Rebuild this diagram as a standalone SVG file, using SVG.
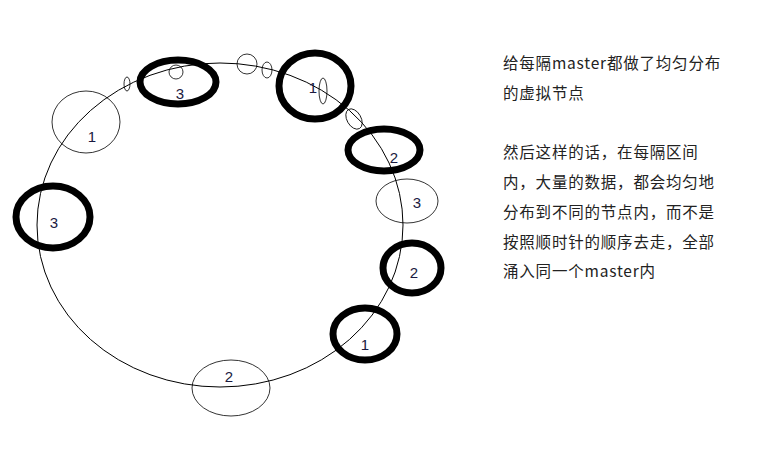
<svg xmlns="http://www.w3.org/2000/svg" width="781" height="449" viewBox="0 0 781 449">
<style>
.ring{fill:none;stroke:#000;stroke-width:1}
.thin{fill:none;stroke:#000;stroke-width:0.8}
.thick{fill:none;stroke:#000;stroke-width:7}
.lbl{font-family:"Liberation Sans",sans-serif;font-size:15px;fill:#1a1a40;text-anchor:middle}
.txt{font-family:"Noto Sans CJK SC","Noto Sans",sans-serif;font-size:15.5px;letter-spacing:0.8px;fill:#222}
</style>
<rect width="781" height="449" fill="#fff"/>
<g id="ring"><ellipse class="ring" cx="220" cy="225" rx="183" ry="162"/></g>
<g id="small">
<circle class="thin" cx="176" cy="72" r="7"/>
<ellipse class="thin" cx="127" cy="84" rx="3" ry="7"/>
<circle class="thin" cx="247" cy="64" r="10"/>
<ellipse class="thin" cx="267" cy="70" rx="5" ry="8"/>
<ellipse class="thin" cx="323" cy="91" rx="4" ry="13"/>
<ellipse class="thin" cx="354" cy="119" rx="7" ry="11" transform="rotate(-30 354 119)"/>
</g>
<g id="n1a"><ellipse class="thin" cx="86" cy="122" rx="34" ry="31"/><text class="lbl" x="92" y="142">1</text></g>
<g id="n3a"><ellipse class="thick" cx="178" cy="82" rx="38" ry="22"/><text class="lbl" x="180" y="99">3</text></g>
<g id="n1b"><ellipse class="thick" cx="315" cy="86" rx="36" ry="33"/><text class="lbl" x="313" y="93">1</text></g>
<g id="n2a"><ellipse class="thick" cx="384" cy="150" rx="36" ry="21"/><text class="lbl" x="394" y="163">2</text></g>
<g id="n3b"><ellipse class="thin" cx="407" cy="201" rx="31" ry="22"/><text class="lbl" x="417" y="208">3</text></g>
<g id="n2b"><ellipse class="thick" cx="412" cy="268" rx="29" ry="25"/><text class="lbl" x="414" y="278">2</text></g>
<g id="n1c"><ellipse class="thick" cx="365" cy="334" rx="32" ry="26"/><text class="lbl" x="365" y="350">1</text></g>
<g id="n2c"><ellipse class="thin" cx="231" cy="388" rx="39" ry="28"/><text class="lbl" x="229" y="382">2</text></g>
<g id="n3c"><ellipse class="thick" cx="53" cy="217" rx="37" ry="31"/><text class="lbl" x="54" y="228">3</text></g>
<g id="note" class="txt">
<text x="503" y="69">给每隔master都做了均匀分布</text>
<text x="503" y="99">的虚拟节点</text>
<text x="503" y="158">然后这样的话，在每隔区间</text>
<text x="503" y="188">内，大量的数据，都会均匀地</text>
<text x="503" y="218">分布到不同的节点内，而不是</text>
<text x="503" y="248">按照顺时针的顺序去走，全部</text>
<text x="503" y="277">涌入同一个master内</text>
</g>
</svg>
